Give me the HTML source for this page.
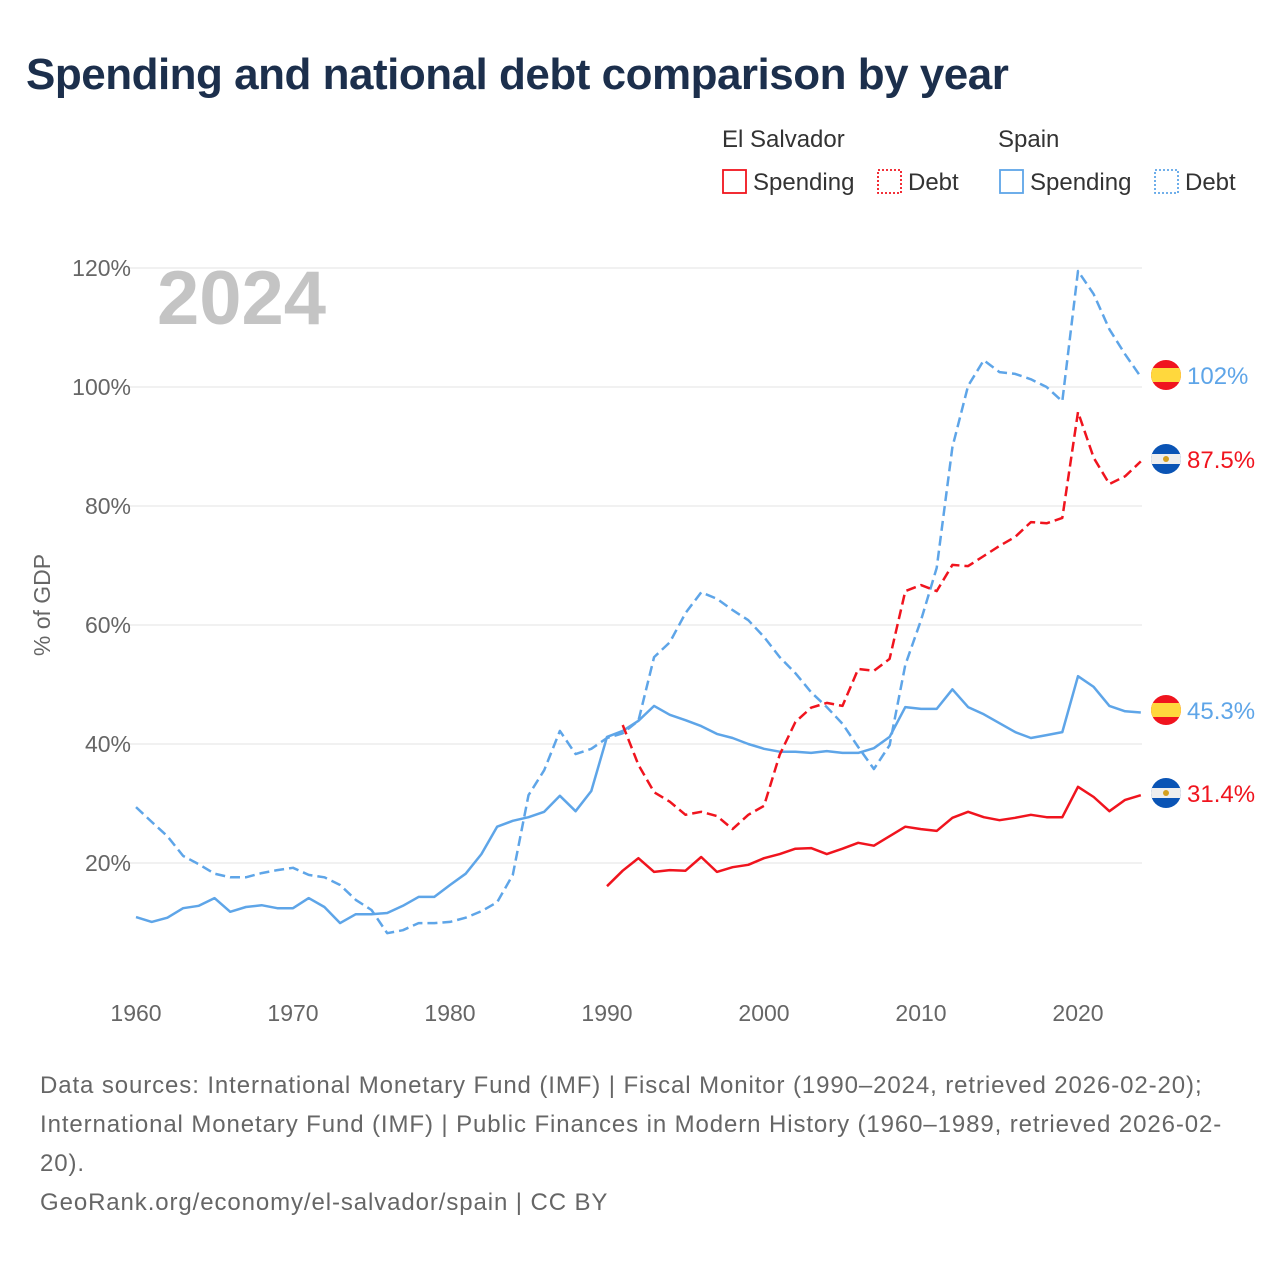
<!DOCTYPE html>
<html><head><meta charset="utf-8">
<style>
body{margin:0;background:#fff;font-family:"Liberation Sans",sans-serif;}
#wrap{position:relative;width:1280px;height:1280px;overflow:hidden;}
h1{position:absolute;left:26px;top:50px;margin:0;font-size:44px;font-weight:bold;color:#1c2f4c;letter-spacing:-0.5px;}
.src{position:absolute;left:40px;top:1066px;font-size:24px;line-height:39px;color:#666;width:1190px;letter-spacing:0.9px;}
</style></head><body>
<div id="wrap">
<h1>Spending and national debt comparison by year</h1>
<svg id="chart" width="1280" height="1280" style="position:absolute;left:0;top:0"></svg>
<div class="src">Data sources: International Monetary Fund (IMF) | Fiscal Monitor (1990–2024, retrieved 2026-02-20); International Monetary Fund (IMF) | Public Finances in Modern History (1960–1989, retrieved 2026-02-20).<br>GeoRank.org/economy/el-salvador/spain | CC BY</div>
</div>
<script>
const yTicks=[20,40,60,80,100,120];
const xTicks=[1960,1970,1980,1990,2000,2010,2020];
const spainStart=1960;
const spainSpending=[10.9,10.1,10.8,12.4,12.8,14.1,11.8,12.6,12.9,12.4,12.4,14.1,12.6,9.9,11.4,11.4,11.6,12.8,14.3,14.3,16.3,18.2,21.5,26.1,27.1,27.7,28.6,31.3,28.7,32.1,41.2,42.2,43.9,46.4,44.9,44.0,43.0,41.7,41.0,40.0,39.2,38.7,38.7,38.5,38.8,38.5,38.5,39.3,41.2,46.2,45.9,45.9,49.2,46.2,45.0,43.5,42.0,41.0,41.5,42.0,51.4,49.6,46.4,45.5,45.3];
const spainDebt=[29.4,26.9,24.5,21.2,19.8,18.2,17.6,17.6,18.3,18.8,19.2,18.0,17.6,16.3,13.8,12.1,8.2,8.7,9.9,9.9,10.1,10.8,11.9,13.4,18.0,31.4,35.6,42.2,38.3,39.2,41.0,41.8,43.9,54.6,57.1,62.0,65.5,64.4,62.5,60.8,58.0,54.6,51.9,48.7,46.2,43.4,39.5,35.8,39.8,53.3,60.8,69.6,89.9,100.2,104.5,102.5,102.2,101.3,100.0,97.6,119.5,115.6,109.7,105.5,101.7];
const svStartSpend=1990;
const svSpending=[16.1,18.7,20.8,18.5,18.8,18.7,21.0,18.5,19.3,19.7,20.8,21.5,22.4,22.5,21.5,22.4,23.4,22.9,24.5,26.1,25.7,25.4,27.6,28.6,27.7,27.2,27.6,28.1,27.7,27.7,32.8,31.1,28.7,30.6,31.4];
const svStartDebt=1991;
const svDebt=[43.2,36.5,31.9,30.3,28.1,28.6,27.9,25.7,28.1,29.6,38.2,43.7,46.1,46.9,46.4,52.6,52.3,54.3,65.7,66.7,65.7,70.1,69.9,71.6,73.3,74.8,77.3,77.1,78.0,95.8,88.1,83.7,85.0,87.5];
const endLabels=["102%","87.5%","45.3%","31.4%"];

const NS="http://www.w3.org/2000/svg";
const svg=document.getElementById('chart');
const X=yr=>136+(yr-1960)*(1078-136)/60;
const Y=v=>982-v*5.95;
const BLUE="#5ea5e8",RED="#f0141e";
function mk(tag,attrs,parent){const e=document.createElementNS(NS,tag);for(const k in attrs)e.setAttribute(k,attrs[k]);(parent||svg).appendChild(e);return e;}
yTicks.forEach(t=>{
 const g=mk('line',{x1:128,x2:1142,y1:Y(t),y2:Y(t),stroke:'#e3e3e3','stroke-width':1});
 
 
 const l=mk('text',{x:131,y:Y(t)+8,'text-anchor':'end','font-size':23,fill:'#666'});
 l.textContent=t+'%';
 
 
});
xTicks.forEach(t=>{
 const l=mk('text',{x:X(t),y:1021,'text-anchor':'middle','font-size':23,fill:'#666'});
 l.textContent=t;
 
 
});
const yt=mk('text',{x:0,y:0,transform:'translate(50,605) rotate(-90)','text-anchor':'middle','font-size':23,fill:'#666'});
yt.textContent='% of GDP';


const yr=mk('text',{x:157,y:324,'font-size':76,'font-weight':'bold',fill:'#c4c4c4'});
yr.textContent='2024';


function line(arr,start,color,dash,name){
 const d=arr.map((v,i)=>(i?'L':'M')+X(start+i).toFixed(1)+','+Y(v).toFixed(1)).join('');
 const p=mk('path',{d:d,fill:'none',stroke:color,'stroke-width':2.5,'stroke-linejoin':'round'});
 if(dash)p.setAttribute('stroke-dasharray','10,5');
 
 
}
line(spainSpending,spainStart,BLUE,false,'spain-spending-line');
line(spainDebt,spainStart,BLUE,true,'spain-debt-line');
line(svSpending,svStartSpend,RED,false,'el-salvador-spending-line');
line(svDebt,svStartDebt,RED,true,'el-salvador-debt-line');
const ends=[[spainDebt,BLUE,'es',375],[svDebt,RED,'sv',459],[spainSpending,BLUE,'es',710],[svSpending,RED,'sv',793]];
ends.forEach((e,i)=>{
 const cy=e[3];
 const g=mk('g',{});
 
 
 const cp=mk('clipPath',{id:'c'+i},g);mk('circle',{cx:1166,cy:cy,r:15},cp);
 const fg=mk('g',{'clip-path':'url(#c'+i+')'},g);
 if(e[2]==='es'){mk('rect',{x:1150,y:cy-15,width:32,height:30,fill:'#f0141e'},fg);mk('rect',{x:1150,y:cy-7,width:32,height:14,fill:'#ffd83d'},fg);}
 else{mk('rect',{x:1150,y:cy-15,width:32,height:30,fill:'#0a54b5'},fg);mk('rect',{x:1150,y:cy-5,width:32,height:10,fill:'#eee'},fg);mk('circle',{cx:1166,cy:cy,r:3,fill:'#d4a020'},fg);}
 const t=mk('text',{x:1187,y:cy+9,'font-size':24,fill:e[1]},g);
 t.textContent=endLabels[i];
});
function lt(x,y,s,name){const t=mk('text',{x:x,y:y,'font-size':24,fill:'#333'});t.textContent=s;}
lt(722,147,'El Salvador','legend-group-el-salvador');
lt(998,147,'Spain','legend-group-spain');
[[722,RED,false,'Spending'],[877,RED,true,'Debt'],[999,BLUE,false,'Spending'],[1154,BLUE,true,'Debt']].forEach((l,i)=>{
 const r=mk('rect',{x:l[0]+1,y:170,width:23,height:23,fill:'none',stroke:l[1],'stroke-width':1.8});
 if(l[2])r.setAttribute('stroke-dasharray','2,2');
 
 
 lt(l[0]+31,190,l[3],'legend-entry-'+i);
});
</script>
</body></html>
